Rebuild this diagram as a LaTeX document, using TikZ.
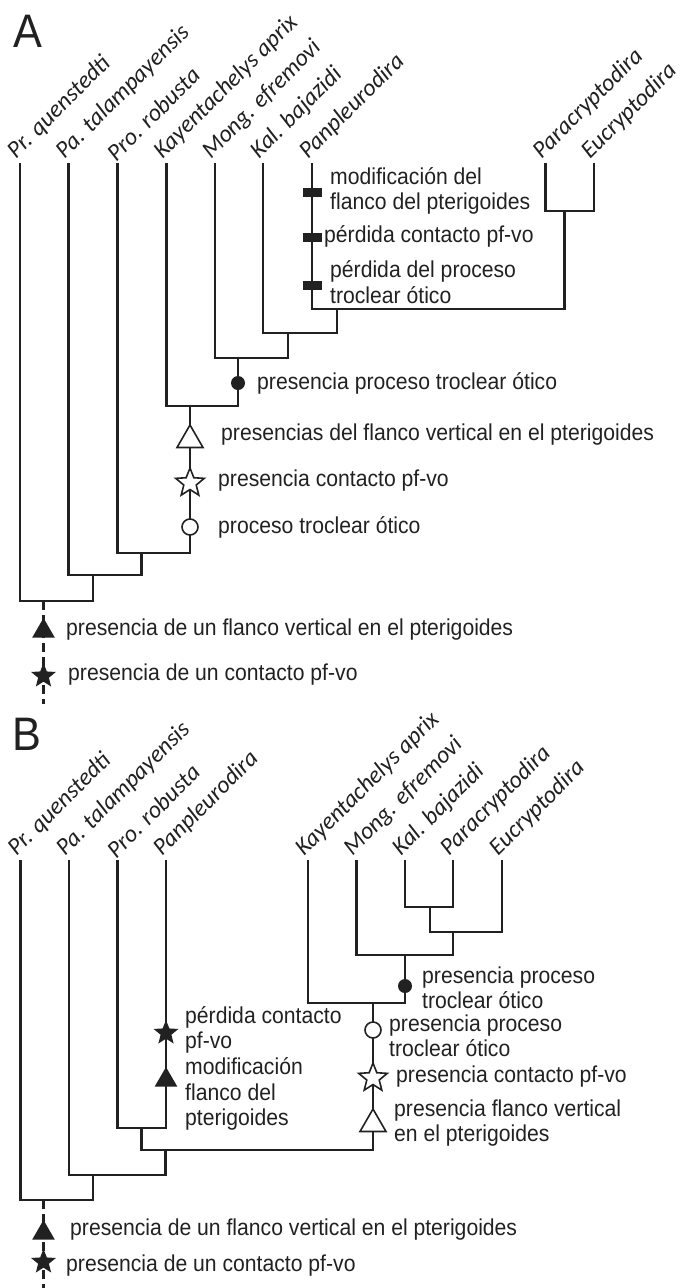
\documentclass[tikz,border=0pt]{standalone}
\usepackage{fontspec}
\setmainfont[FakeStretch=0.92]{Liberation Sans}
\newfontfamily\taxfont{Carlito}
\usetikzlibrary{shapes.geometric}

\definecolor{ink}{gray}{0.13}

\tikzset{
  branch/.style={draw=ink, line width=2.1pt},
  rootdash/.style={branch, dash pattern=on 9pt off 5pt},
  taxon/.style={font=\taxfont\itshape\fontsize{24}{26}\selectfont, text=ink, rotate=45, anchor=south west, inner sep=1pt, xshift=-1.5pt},
  note/.style={font=\fontsize{23}{25.5}\selectfont, text=ink, anchor=west, align=left, inner sep=0pt},
  panel/.style={font=\fontsize{47}{50}\selectfont, text=ink, anchor=base west, inner sep=0pt},
  lossbar/.style={rectangle, fill=ink, minimum width=19pt, minimum height=9pt, inner sep=0pt},
  gaindot/.style={circle, fill=ink, minimum size=14pt, inner sep=0pt},
  opencirc/.style={circle, draw=ink, line width=1.6pt, fill=white, minimum size=16pt, inner sep=0pt},
  openstar/.style={star, star points=5, star point ratio=2.3, draw=ink, line width=1.6pt, fill=white, minimum size=30pt, inner sep=0pt},
  opentri/.style={regular polygon, regular polygon sides=3, draw=ink, line width=1.6pt, fill=white, minimum size=30pt, inner sep=0pt},
  fullstar/.style={star, star points=5, star point ratio=2.3, fill=ink, minimum size=26pt, inner sep=0pt},
  fulltri/.style={regular polygon, regular polygon sides=3, fill=ink, minimum size=26pt, inner sep=0pt}
}

\begin{document}
\begin{tikzpicture}[x=1pt,y=-1pt]
\useasboundingbox (0,0) rectangle (683,1288);

\node[panel] (lblA) at (13,47) {A};

\coordinate (aqu) at (20,163);
\coordinate (ata) at (68.5,163);
\coordinate (aro) at (117.5,163);
\coordinate (aka) at (166.5,163);
\coordinate (amo) at (215,163);
\coordinate (aba) at (263,163);
\coordinate (apa) at (312,163);
\coordinate (apc) at (545.5,163);
\coordinate (aeu) at (594,163);

\node[taxon] (naqu) at (aqu) {Pr. quenstedti};
\node[taxon] (nata) at (ata) {Pa. talampayensis};
\node[taxon] (naro) at (aro) {Pro. robusta};
\node[taxon] (naka) at (aka) {Kayentachelys aprix};
\node[taxon] (namo) at (amo) {Mong. efremovi};
\node[taxon] (naba) at (aba) {Kal. bajazidi};
\node[taxon] (napa) at (apa) {Panpleurodira};
\node[taxon] (napc) at (apc) {Paracryptodira};
\node[taxon] (naeu) at (aeu) {Eucryptodira};

\coordinate (ajpe) at (564.5,211);
\coordinate (ajpan) at (337,309);
\coordinate (ajkal) at (288,333);
\coordinate (ajmong) at (238,358);
\coordinate (ajkay) at (190,406);
\coordinate (ajpro) at (141.5,553);
\coordinate (ajpa) at (93,575);
\coordinate (ajroot) at (43.5,601);
\coordinate (aend) at (43.5,704);

\foreach \from/\via/\to in {apc/ajpe/aeu, apa/ajpan/ajpe, aba/ajkal/ajpan, amo/ajmong/ajkal, aka/ajkay/ajmong, aro/ajpro/ajkay, ata/ajpa/ajpro, aqu/ajroot/ajpa}
	\draw[branch] (\from) |- (\via) -| (\to);
\draw[rootdash] (ajroot) -- (aend);

\node[lossbar] (aloss1) at (312,192) {};
\node[lossbar] (aloss2) at (312,237) {};
\node[lossbar] (aloss3) at (312,285) {};
\node[gaindot] (again) at (238,383) {};
\node[opentri] (atri) at (190,440) {};
\node[openstar] (astar) at (190,483) {};
\node[opencirc] (acirc) at (190,527) {};
\node[fulltri] (aroottri) at (43.5,631) {};
\node[fullstar] (arootstar) at (43.5,676) {};

\node[note] (tloss1) at (330,191) {modificación del\\flanco del pterigoides};
\node[note] (tloss2) at (324,236) {pérdida contacto pf-vo};
\node[note] (tloss3) at (330,282) {pérdida del proceso\\troclear ótico};
\node[note] (tgain) at (257,383) {presencia proceso troclear ótico};
\node[note] (ttri) at (221,435) {presencias del flanco vertical en el pterigoides};
\node[note] (tstar) at (218,481) {presencia contacto pf-vo};
\node[note] (tcirc) at (218,527) {proceso troclear ótico};
\node[note] (troottri) at (66,630) {presencia de un flanco vertical en el pterigoides};
\node[note] (trootstar) at (68,675) {presencia de un contacto pf-vo};

\node[panel] (lblB) at (12,750) {B};

\coordinate (bqu) at (20.5,860);
\coordinate (bta) at (69,860);
\coordinate (bro) at (117.5,860);
\coordinate (bpa) at (166,860);
\coordinate (bka) at (308,860);
\coordinate (bmo) at (356.5,860);
\coordinate (bba) at (405,860);
\coordinate (bpc) at (453,860);
\coordinate (beu) at (502,860);

\node[taxon] (nbqu) at (bqu) {Pr. quenstedti};
\node[taxon] (nbta) at (bta) {Pa. talampayensis};
\node[taxon] (nbro) at (bro) {Pro. robusta};
\node[taxon] (nbpa) at (bpa) {Panpleurodira};
\node[taxon] (nbka) at (bka) {Kayentachelys aprix};
\node[taxon] (nbmo) at (bmo) {Mong. efremovi};
\node[taxon] (nbba) at (bba) {Kal. bajazidi};
\node[taxon] (nbpc) at (bpc) {Paracryptodira};
\node[taxon] (nbeu) at (beu) {Eucryptodira};

\coordinate (bjkp) at (430,907);
\coordinate (bje) at (453,932);
\coordinate (bjm) at (405,955);
\coordinate (bjk) at (373,1003);
\coordinate (bjpp) at (141.5,1128);
\coordinate (bjpc) at (165.5,1150);
\coordinate (bjpa) at (93,1175);
\coordinate (bjroot) at (43.5,1200);
\coordinate (bend) at (43.5,1292);

\foreach \from/\via/\to in {bba/bjkp/bpc, bjkp/bje/beu, bmo/bjm/bje, bka/bjk/bjm, bro/bjpp/bpa, bjpp/bjpc/bjk, bta/bjpa/bjpc, bqu/bjroot/bjpa}
	\draw[branch] (\from) |- (\via) -| (\to);
\draw[rootdash] (bjroot) -- (bend);

\node[gaindot] (bgain) at (405,986) {};
\node[opencirc] (bcirc) at (373,1030) {};
\node[openstar] (bstar) at (373,1078) {};
\node[opentri] (btri) at (373,1124) {};
\node[fullstar] (bpanstar) at (166,1033) {};
\node[fulltri] (bpantri) at (166,1080) {};
\node[fulltri] (broottri) at (43.5,1233) {};
\node[fullstar] (brootstar) at (43.5,1262) {};

\node[note] (tbgain) at (422,988) {presencia proceso\\troclear ótico};
\node[note] (tbcirc) at (389,1036) {presencia proceso\\troclear ótico};
\node[note] (tbstar) at (396,1077) {presencia contacto pf-vo};
\node[note] (tbtri) at (394,1123) {presencia flanco vertical\\en el pterigoides};
\node[note] (tbpanstar) at (185,1030) {pérdida contacto\\pf-vo};
\node[note] (tbpantri) at (185,1094) {modificación\\flanco del\\pterigoides};
\node[note] (tbroottri) at (70,1230) {presencia de un flanco vertical en el pterigoides};
\node[note] (tbrootstar) at (66,1266) {presencia de un contacto pf-vo};
\end{tikzpicture}
\end{document}
